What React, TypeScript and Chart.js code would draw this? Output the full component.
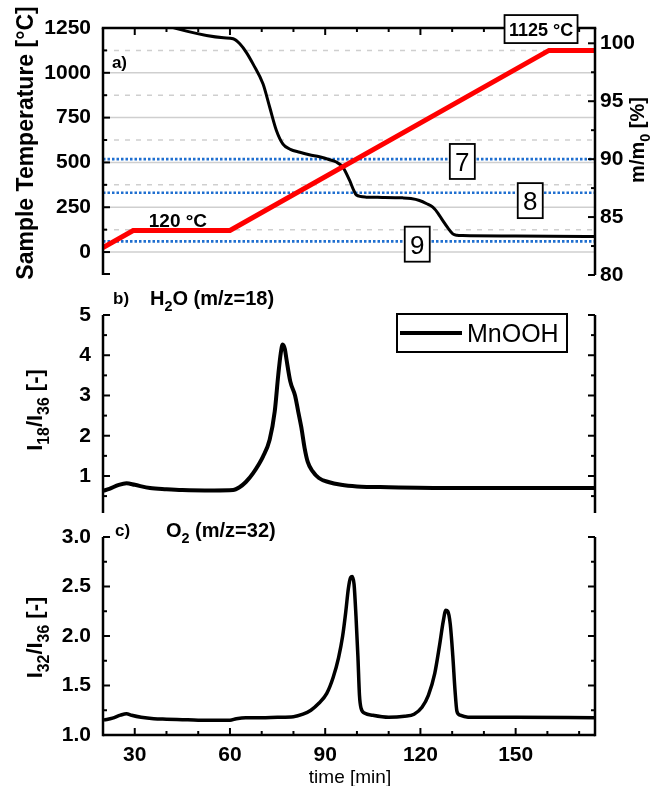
import React, { useEffect, useRef } from 'react';
import { Chart, registerables } from 'chart.js';

Chart.register(...registerables);

const FONT = "'Liberation Sans', Arial, Helvetica, sans-serif";

// ---------- shared time axis ----------
const timeMin = 20;
const timeMax = 175;
const timeTicks = [30, 60, 90, 120, 150];
const timeMinorTicks = [20, 40, 50, 70, 80, 100, 110, 130, 140, 160, 170];

// ---------- panel a: temperature programme ----------
const tempTime = [20, 29.5, 60, 160.5, 175];
const tempValue = [25, 120, 120, 1125, 1125];
const tempTicks = [0, 250, 500, 750, 1000, 1250];
const tempMinorTicks = [125, 375, 625, 875, 1125];

// ---------- panel a: mass loss (m/m0 %) ----------
const massTime = [20, 30, 38, 41, 46.3, 52.6, 58, 61, 63.1, 65.2, 67.3, 70.4, 72.5, 74.6, 76.7, 79, 82, 85, 88.2, 91.4, 93.5, 95.6, 97.7, 99, 99.8, 102.9, 108, 114.4, 117, 119.7, 122, 123.9, 125.5, 127, 128.7, 130.2, 131.5, 133.3, 150, 175];
const massValue = [103.3, 102.4, 101.75, 101.45, 101.05, 100.68, 100.48, 100.39, 99.96, 99.2, 98.2, 96.5, 94.5, 92.5, 91.3, 90.85, 90.6, 90.38, 90.2, 89.95, 89.75, 89.3, 88.16, 87.3, 86.9, 86.72, 86.7, 86.66, 86.6, 86.43, 86.15, 85.85, 85.35, 84.71, 84.05, 83.55, 83.43, 83.4, 83.36, 83.32];
const massTicks = [80, 85, 90, 95, 100];
const massMinorTicks = [82.5, 87.5, 92.5, 97.5];
const plateauLevels = [90.0, 87.1, 82.9];
const stepLabels = ['7', '8', '9'];
const stepLabelTime = [133.2, 154.6, 119.0];
const stepLabelMass = [89.8, 86.42, 82.66];

// ---------- panel b: H2O (m/z=18) ----------
const h2oTime = [20, 22, 25, 27.4, 30, 34.8, 40, 45, 55, 61, 63, 65, 67.3, 70.4, 72.5, 74.1, 75.2, 76, 76.6, 77.3, 77.8, 79, 80.5, 81.5, 82.5, 83.5, 84.5, 86, 88, 91, 95, 100, 110, 130, 150, 175];
const h2oValue = [0.63, 0.68, 0.78, 0.82, 0.78, 0.7, 0.67, 0.65, 0.64, 0.65, 0.72, 0.85, 1.07, 1.48, 1.9, 2.6, 3.5, 4.05, 4.27, 4.15, 3.9, 3.35, 3.0, 2.6, 2.2, 1.7, 1.35, 1.12, 0.95, 0.85, 0.78, 0.74, 0.72, 0.7, 0.7, 0.7];
const h2oTicks = [1, 2, 3, 4, 5];
const h2oMinorTicks = [0.5, 1.5, 2.5, 3.5, 4.5];

// ---------- panel c: O2 (m/z=32) ----------
const o2Time = [20.3, 23, 25.5, 27.4, 29, 32, 36, 40, 45, 50, 55, 60, 62, 65, 70, 75, 80, 83, 85.5, 88, 90.5, 92.5, 94.2, 95.5, 96.5, 97.3, 98, 98.5, 99.1, 99.7, 100.3, 100.8, 101.3, 102.5, 105, 110, 115, 118, 120.5, 122.5, 124.5, 126, 127.2, 128, 128.6, 129.4, 130.2, 130.9, 131.5, 132.5, 135, 150, 175];
const o2Value = [1.15, 1.17, 1.2, 1.215, 1.2, 1.18, 1.165, 1.16, 1.155, 1.15, 1.15, 1.15, 1.165, 1.175, 1.175, 1.18, 1.185, 1.21, 1.25, 1.32, 1.42, 1.58, 1.78, 2.0, 2.25, 2.48, 2.59, 2.6, 2.52, 2.2, 1.8, 1.4, 1.27, 1.22, 1.2, 1.18, 1.19, 1.21, 1.28, 1.4, 1.62, 1.9, 2.15, 2.26, 2.25, 2.12, 1.8, 1.45, 1.24, 1.2, 1.18, 1.18, 1.175];
const o2Ticks = [1.0, 1.5, 2.0, 2.5, 3.0];
const o2MinorTicks = [1.25, 1.75, 2.25, 2.75];

// ---------- helpers ----------
const pts = (xs: number[], ys: number[]) => xs.map((x, i) => ({ x, y: ys[i] }));

type Part = { t: string; sub?: boolean };

function drawRich(
  ctx: CanvasRenderingContext2D,
  parts: Part[],
  x: number,
  y: number,
  size: number,
  weight: string,
  align: 'left' | 'center',
  rotation = 0,
) {
  ctx.save();
  ctx.translate(x, y);
  ctx.rotate(rotation);
  ctx.fillStyle = '#000';
  ctx.textBaseline = 'alphabetic';
  ctx.textAlign = 'left';
  const subSize = size * 0.72;
  const fontOf = (sub?: boolean) => `${weight} ${sub ? subSize : size}px ${FONT}`;
  let total = 0;
  const widths = parts.map((p) => {
    ctx.font = fontOf(p.sub);
    const w = ctx.measureText(p.t).width;
    total += w;
    return w;
  });
  let cx = align === 'center' ? -total / 2 : 0;
  const base = size * 0.36;
  parts.forEach((p, i) => {
    ctx.font = fontOf(p.sub);
    ctx.fillText(p.t, cx, base + (p.sub ? size * 0.3 : 0));
    cx += widths[i];
  });
  ctx.restore();
}

function line(ctx: CanvasRenderingContext2D, x1: number, y1: number, x2: number, y2: number) {
  ctx.beginPath();
  ctx.moveTo(x1, y1);
  ctx.lineTo(x2, y2);
  ctx.stroke();
}

function vTicks(ctx: CanvasRenderingContext2D, x: number, scale: any, values: number[], len: number, dir: number) {
  values.forEach((v) => {
    const y = scale.getPixelForValue(v);
    line(ctx, x, y, x + dir * len, y);
  });
}

function hTicks(ctx: CanvasRenderingContext2D, y: number, scale: any, values: number[], len: number, dir: number) {
  values.forEach((v) => {
    const x = scale.getPixelForValue(v);
    line(ctx, x, y, x, y + dir * len);
  });
}

function frameStyle(ctx: CanvasRenderingContext2D) {
  ctx.strokeStyle = '#000';
  ctx.lineWidth = 2.5;
  ctx.lineCap = 'butt';
  ctx.setLineDash([]);
}

const tickFont = { family: FONT, size: 21, weight: 'bold' as const };

const fixedTicks = (values: number[]) => (scale: any) => {
  scale.ticks = values.map((value) => ({ value }));
};

const fixWidth = (w: number) => (s: any) => {
  s.width = w;
  s.paddingTop = 0;
  s.paddingBottom = 0;
  s.paddingLeft = 0;
  s.paddingRight = 0;
};

const fixHeight = (h: number) => (s: any) => {
  s.height = h;
  s.paddingTop = 0;
  s.paddingBottom = 0;
  s.paddingLeft = 0;
  s.paddingRight = 0;
};

const plainLabel = (v: any) => String(v);

const baseOptions = {
  responsive: false,
  maintainAspectRatio: false,
  animation: false as const,
  devicePixelRatio: 1,
  events: [] as any[],
  plugins: { legend: { display: false }, tooltip: { enabled: false } },
};

const hiddenGrid = { display: false, drawTicks: false };

// ---------- panel a ----------
function buildA() {
  const decor = {
    id: 'decorA',
    beforeDatasetsDraw(chart: any) {
      const { ctx, chartArea: a, scales } = chart;
      const y = scales.y;
      ctx.save();
      ctx.strokeStyle = '#cfcfcf';
      ctx.lineWidth = 1.5;
      tempTicks.filter((v) => v < 1250).forEach((v) => line(ctx, a.left, y.getPixelForValue(v), a.right, y.getPixelForValue(v)));
      ctx.setLineDash([5, 6]);
      tempMinorTicks.forEach((v) => line(ctx, a.left, y.getPixelForValue(v), a.right, y.getPixelForValue(v)));
      ctx.restore();
    },
    afterDatasetsDraw(chart: any) {
      const { ctx, chartArea: a, scales } = chart;
      const { x, y, y2 } = scales;
      ctx.save();
      frameStyle(ctx);
      line(ctx, a.left, a.top, a.left, a.bottom);
      line(ctx, a.right, a.top, a.right, a.bottom);
      line(ctx, a.left - 1.25, a.top, a.right + 1.25, a.top);
      ctx.lineWidth = 2;
      vTicks(ctx, a.left, y, tempTicks, 7, 1);
      vTicks(ctx, a.left, y, tempMinorTicks, 4, 1);
      line(ctx, a.left, a.bottom - 1, a.left + 7, a.bottom - 1);
      vTicks(ctx, a.right, y2, massTicks, 7, -1);
      vTicks(ctx, a.right, y2, massMinorTicks, 4, -1);
      hTicks(ctx, a.top, x, timeTicks, 7, 1);
      hTicks(ctx, a.top, x, timeMinorTicks.filter((v) => v > timeMin), 4, 1);

      // annotations
      drawRich(ctx, [{ t: 'a)' }], x.getPixelForValue(22.8), y.getPixelForValue(1060), 17, 'bold', 'left');
      drawRich(ctx, [{ t: '120 °C' }], x.getPixelForValue(43.6), y.getPixelForValue(178), 19, 'bold', 'center');

      // 1125 °C box
      const bx = x.getPixelForValue(158.0);
      const by = y.getPixelForValue(1244);
      ctx.fillStyle = '#fff';
      ctx.fillRect(bx - 36.5, by - 14, 73, 28);
      ctx.lineWidth = 1.8;
      ctx.strokeRect(bx - 36.5, by - 14, 73, 28);
      drawRich(ctx, [{ t: '1125 °C' }], bx, by, 18, 'bold', 'center');

      // step boxes 7, 8, 9
      stepLabels.forEach((s, i) => {
        const cx = x.getPixelForValue(stepLabelTime[i]);
        const cy = y2.getPixelForValue(stepLabelMass[i]);
        ctx.fillStyle = '#fff';
        ctx.fillRect(cx - 12.5, cy - 17.5, 25, 35);
        ctx.lineWidth = 1.8;
        ctx.strokeStyle = '#000';
        ctx.strokeRect(cx - 12.5, cy - 17.5, 25, 35);
        drawRich(ctx, [{ t: s }], cx, cy, 26, 'normal', 'center');
      });

      // axis titles
      drawRich(ctx, [{ t: 'Sample Temperature [°C]' }], 25, 143, 23, 'bold', 'center', -Math.PI / 2);
      drawRich(ctx, [{ t: 'm/m' }, { t: '0', sub: true }, { t: ' [%]' }], 637, 140, 20, 'bold', 'center', -Math.PI / 2);
      ctx.restore();
    },
  };

  return {
    type: 'line' as const,
    data: {
      datasets: [
        {
          label: 'Sample Temperature',
          data: pts(tempTime, tempValue),
          borderColor: '#ff0000',
          borderWidth: 5,
          pointRadius: 0,
          tension: 0,
          yAxisID: 'y',
        },
        {
          label: 'm/m0',
          data: pts(massTime, massValue),
          borderColor: '#000000',
          borderWidth: 3,
          pointRadius: 0,
          cubicInterpolationMode: 'monotone' as const,
          yAxisID: 'y2',
        },
        ...plateauLevels.map((lvl, i) => ({
          label: `level ${stepLabels[i]}`,
          data: pts([timeMin, timeMax], [lvl, lvl]),
          borderColor: '#1f6fd0',
          borderWidth: 2.6,
          borderDash: [2.5, 2],
          pointRadius: 0,
          yAxisID: 'y2',
        })),
      ],
    },
    options: {
      ...baseOptions,
      layout: { padding: { left: 0, right: 0, top: 28, bottom: 10 } },
      scales: {
        x: { type: 'linear' as const, min: timeMin, max: timeMax, display: false },
        y: {
          type: 'linear' as const,
          position: 'left' as const,
          min: -128,
          max: 1250,
          afterFit: fixWidth(103),
          afterBuildTicks: fixedTicks(tempTicks),
          grid: hiddenGrid,
          border: { display: false },
          ticks: { font: tickFont, color: '#000', padding: 12, autoSkip: false, callback: plainLabel },
        },
        y2: {
          type: 'linear' as const,
          position: 'right' as const,
          min: 80,
          max: 101.32,
          afterFit: fixWidth(57),
          afterBuildTicks: fixedTicks(massTicks),
          grid: hiddenGrid,
          border: { display: false },
          ticks: { font: tickFont, color: '#000', padding: 5, autoSkip: false, callback: plainLabel },
        },
      },
    },
    plugins: [decor],
  };
}

// ---------- panel b ----------
function buildB() {
  const decor = {
    id: 'decorB',
    afterDatasetsDraw(chart: any) {
      const { ctx, chartArea: a, scales } = chart;
      const { y } = scales;
      ctx.save();
      frameStyle(ctx);
      line(ctx, a.left, a.top, a.left, a.bottom);
      line(ctx, a.right, a.top, a.right, a.bottom);
      ctx.lineWidth = 2;
      vTicks(ctx, a.left, y, h2oTicks, 7, 1);
      vTicks(ctx, a.left, y, h2oMinorTicks, 4, 1);
      vTicks(ctx, a.right, y, h2oTicks, 7, -1);
      vTicks(ctx, a.right, y, h2oMinorTicks, 4, -1);

      drawRich(ctx, [{ t: 'b)' }], 113, 13, 17, 'bold', 'left');
      drawRich(ctx, [{ t: 'H' }, { t: '2', sub: true }, { t: 'O (m/z=18)' }], 150, 13, 20, 'bold', 'left');
      drawRich(
        ctx,
        [{ t: 'I' }, { t: '18', sub: true }, { t: '/I' }, { t: '36', sub: true }, { t: ' [-]' }],
        34, 125, 22, 'bold', 'center', -Math.PI / 2,
      );

      // legend
      const ds = chart.data.datasets[0];
      ctx.fillStyle = '#fff';
      ctx.fillRect(397, 29, 170, 38);
      ctx.strokeStyle = '#000';
      ctx.lineWidth = 2;
      ctx.strokeRect(397, 29, 170, 38);
      ctx.strokeStyle = ds.borderColor;
      ctx.lineWidth = 4;
      line(ctx, 400, 48, 462, 48);
      drawRich(ctx, [{ t: ds.label }], 467, 48, 25, 'normal', 'left');
      ctx.restore();
    },
  };
  return {
    type: 'line' as const,
    data: {
      datasets: [
        {
          label: 'MnOOH',
          data: pts(h2oTime, h2oValue),
          borderColor: '#000000',
          borderWidth: 4,
          pointRadius: 0,
          cubicInterpolationMode: 'monotone' as const,
        },
      ],
    },
    options: {
      ...baseOptions,
      layout: { padding: { left: 0, right: 57, top: 30, bottom: 2 } },
      scales: {
        x: { type: 'linear' as const, min: timeMin, max: timeMax, display: false },
        y: {
          type: 'linear' as const,
          position: 'left' as const,
          min: 0.08,
          max: 5,
          afterFit: fixWidth(103),
          afterBuildTicks: fixedTicks(h2oTicks),
          grid: hiddenGrid,
          border: { display: false },
          ticks: { font: tickFont, color: '#000', padding: 12, autoSkip: false, callback: plainLabel },
        },
      },
    },
    plugins: [decor],
  };
}

// ---------- panel c ----------
function buildC() {
  const decor = {
    id: 'decorC',
    afterDatasetsDraw(chart: any) {
      const { ctx, chartArea: a, scales } = chart;
      const { x, y } = scales;
      ctx.save();
      frameStyle(ctx);
      line(ctx, a.left, a.top, a.left, a.bottom + 1.25);
      line(ctx, a.right, a.top, a.right, a.bottom + 1.25);
      line(ctx, a.left, a.bottom, a.right, a.bottom);
      ctx.lineWidth = 2;
      vTicks(ctx, a.left, y, o2Ticks, 7, 1);
      vTicks(ctx, a.left, y, o2MinorTicks, 4, 1);
      vTicks(ctx, a.right, y, o2Ticks, 7, -1);
      vTicks(ctx, a.right, y, o2MinorTicks, 4, -1);
      hTicks(ctx, a.bottom, x, timeTicks, 7, -1);
      hTicks(ctx, a.bottom, x, timeMinorTicks.filter((v) => v > timeMin), 4, -1);

      drawRich(ctx, [{ t: 'c)' }], 115, 14.5, 17, 'bold', 'left');
      drawRich(ctx, [{ t: 'O' }, { t: '2', sub: true }, { t: ' (m/z=32)' }], 166, 14.5, 20, 'bold', 'left');
      drawRich(
        ctx,
        [{ t: 'I' }, { t: '32', sub: true }, { t: '/I' }, { t: '36', sub: true }, { t: ' [-]' }],
        34, 122.5, 22, 'bold', 'center', -Math.PI / 2,
      );
      drawRich(ctx, [{ t: 'time [min]' }], 350, 261, 19, 'normal', 'center');
      ctx.restore();
    },
  };
  return {
    type: 'line' as const,
    data: {
      datasets: [
        {
          label: 'MnOOH',
          data: pts(o2Time, o2Value),
          borderColor: '#000000',
          borderWidth: 3.5,
          pointRadius: 0,
          cubicInterpolationMode: 'monotone' as const,
        },
      ],
    },
    options: {
      ...baseOptions,
      layout: { padding: { left: 0, right: 57, top: 22, bottom: 0 } },
      scales: {
        x: {
          type: 'linear' as const,
          position: 'bottom' as const,
          min: timeMin,
          max: timeMax,
          afterFit: fixHeight(51),
          afterBuildTicks: fixedTicks(timeTicks),
          grid: hiddenGrid,
          border: { display: false },
          ticks: { font: tickFont, color: '#000', padding: 8, autoSkip: false, maxRotation: 0, callback: plainLabel },
        },
        y: {
          type: 'linear' as const,
          position: 'left' as const,
          min: 1.0,
          max: 3.0,
          afterFit: fixWidth(103),
          afterBuildTicks: fixedTicks(o2Ticks),
          grid: hiddenGrid,
          border: { display: false },
          ticks: {
            font: tickFont,
            color: '#000',
            padding: 12,
            autoSkip: false,
            callback: (v: any) => Number(v).toFixed(1),
          },
        },
      },
    },
    plugins: [decor],
  };
}

function ChartCanvas({ top, height, build }: { top: number; height: number; build: () => any }) {
  const ref = useRef<HTMLCanvasElement | null>(null);
  useEffect(() => {
    if (!ref.current) return;
    const chart = new Chart(ref.current, build());
    return () => chart.destroy();
  }, [build]);
  return (
    <canvas
      ref={ref}
      width={652}
      height={height}
      style={{ position: 'absolute', left: 0, top, width: 652, height, display: 'block' }}
    />
  );
}

export default function App() {
  return (
    <div
      style={{
        position: 'absolute',
        left: 0,
        top: 0,
        width: 652,
        height: 786,
        background: '#ffffff',
        overflow: 'hidden',
      }}
    >
      <ChartCanvas top={0} height={285} build={buildA} />
      <ChartCanvas top={285} height={230} build={buildB} />
      <ChartCanvas top={515} height={271} build={buildC} />
    </div>
  );
}
